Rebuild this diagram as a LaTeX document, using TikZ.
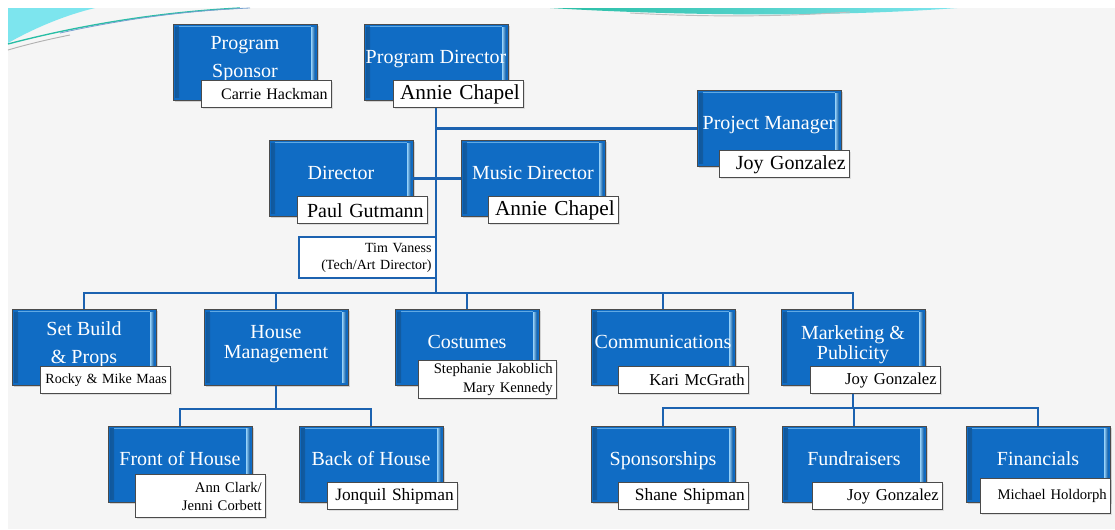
\documentclass[tikz,border=0pt]{standalone}
\usepackage{fontspec}
\setmainfont{Liberation Serif}
\usetikzlibrary{shadows}

\definecolor{unitblue}{RGB}{16,108,196}
\definecolor{unitglow}{RGB}{150,210,250}
\definecolor{unitedge}{RGB}{75,75,75}
\definecolor{wireblue}{RGB}{28,98,176}
\definecolor{slide}{RGB}{245,245,245}
\definecolor{swoosh}{RGB}{125,229,238}
\definecolor{swooshteal}{RGB}{40,190,165}

\tikzset{
  unit/.style={draw=unitedge, fill=unitblue, text=white,
    minimum width=108pt, minimum height=57pt, inner xsep=1pt,
    align=center, text depth=8pt, font=\fontsize{15}{17}\selectfont,
    drop shadow={shadow xshift=1.2pt,shadow yshift=-1.2pt,opacity=.3},
    path picture={
      \shade[left color=unitblue!80!black, right color=unitglow]
        ([shift={(1.5pt,-2pt)}]path picture bounding box.north west)
        rectangle ([shift={(4.5pt,2pt)}]path picture bounding box.south west);
      \shade[left color=unitglow, right color=unitblue!80!black]
        ([shift={(-4.5pt,-2pt)}]path picture bounding box.north east)
        rectangle ([shift={(-1.5pt,2pt)}]path picture bounding box.south east);
      \draw[unitglow!60!unitblue, line width=0.6pt]
        ([shift={(4.5pt,-1.5pt)}]path picture bounding box.north west)
        -- ([shift={(-4.5pt,-1.5pt)}]path picture bounding box.north east);
    }},
  who/.style={draw=unitedge, fill=white, anchor=south east,
    minimum width=97.5pt, minimum height=20.25pt, text width=91.5pt,
    inner xsep=3pt, inner ysep=1pt, align=right,
    font=\fontsize{12.5}{14}\selectfont,
    drop shadow={shadow xshift=1pt,shadow yshift=-1pt,opacity=.2}},
  note/.style={draw=wireblue, line width=1.5pt, fill=white,
    minimum width=102.75pt, minimum height=30.75pt, text width=96pt,
    inner xsep=3pt, align=right, font=\fontsize{10.5}{12.75}\selectfont},
  wire/.style={draw=wireblue, line width=1.6pt},
}

\begin{document}
\begin{tikzpicture}[x=0.75pt,y=-0.75pt]
  \useasboundingbox (0,0) rectangle (1115,529);
  % slide and swooshes
  \fill[white] (0,0) rectangle (1115,529);
  \fill[slide] (8,8) rectangle (1115,529);
  \fill[swoosh] (8,8) -- (8,43) .. controls (40,25) and (70,14) .. (95,8) -- cycle;
  \draw[swooshteal, line width=1pt] (8,44) .. controls (80,25) and (160,12) .. (240,8);
  \draw[wireblue!60, line width=0.6pt] (60,33) .. controls (120,20) and (180,11) .. (250,8);
  \draw[gray!60, line width=0.7pt] (8,50) .. controls (25,45) and (45,40) .. (70,35);
  \shade[left color=swooshteal, right color=swoosh]
    (550,8) .. controls (700,17) and (850,16) .. (957,8) -- cycle;
  \draw[gray!50, line width=0.7pt] (630,13) .. controls (700,17) and (780,17) .. (850,12);

  % top
  \node[unit] (ps) at (245,62.5) {Program\\[4pt]Sponsor};
  \node[who, font=\fontsize{12}{14}\selectfont] (pswho) at (332,108) {Carrie Hackman};
  \node[unit] (pd) at (436,62.5) {Program Director};
  \node[who, font=\fontsize{16}{18}\selectfont] (pdwho) at (524,108) {Annie Chapel};
  \node[unit] (pm) at (769,128.5) {Project Manager};
  \node[who, font=\fontsize{15}{17}\selectfont] (pmwho) at (850,178) {Joy Gonzalez};
  \node[unit] (dir) at (341,178.5) {Director};
  \node[who, font=\fontsize{15}{17}\selectfont] (dirwho) at (428,224) {Paul Gutmann};
  \node[unit] (md) at (533,178.5) {Music Director};
  \node[who, font=\fontsize{16}{18}\selectfont] (mdwho) at (619,224) {Annie Chapel};
  \node[note] (tim) at (367.5,257.5) {Tim Vaness\\(Tech/Art Director)};

  % departments
  \node[unit] (sb) at (84,347.5) {Set Build\\[4pt]\& Props};
  \node[who, font=\fontsize{10.5}{12}\selectfont] (sbwho) at (171,394) {Rocky \& Mike Maas};
  \node[unit] (hm) at (276,347.5) {House\\[-2pt]Management};
  \node[unit] (co) at (467,347.5) {Costumes};
  \node[who, minimum width=103.5pt, text width=97.5pt, minimum height=28.5pt,
    font=\fontsize{11}{14.5}\selectfont] (cowho) at (557,399) {Stephanie Jakoblich\\Mary Kennedy};
  \node[unit] (cm) at (663,347.5) {Communications};
  \node[who] (cmwho) at (749,394) {Kari McGrath};
  \node[unit] (mk) at (853,347.5) {Marketing \&\\[-2pt]Publicity};
  \node[who] (mkwho) at (941,394) {Joy Gonzalez};

  % sub units
  \node[unit] (foh) at (180,464) {Front of House};
  \node[who, minimum height=32.25pt, font=\fontsize{11}{13.5}\selectfont] (fohwho) at (266,518) {Ann Clark/\\Jenni Corbett};
  \node[unit] (boh) at (371,464) {Back of House};
  \node[who, font=\fontsize{13}{15}\selectfont] (bohwho) at (458,510) {Jonquil Shipman};
  \node[unit] (sp) at (663,464) {Sponsorships};
  \node[who, font=\fontsize{13}{15}\selectfont] (spwho) at (749,510) {Shane Shipman};
  \node[unit] (fu) at (854,464) {Fundraisers};
  \node[who, font=\fontsize{12.5}{14}\selectfont] (fuwho) at (943,510) {Joy Gonzalez};
  \node[unit] (fi) at (1038,464) {Financials};
  \node[who, minimum height=26.25pt, font=\fontsize{11}{13}\selectfont] (fiwho) at (1111,514) {Michael Holdorph};

  % wires
  \coordinate (bus) at (437,293);
  \coordinate (hbus) at (276,409);
  \coordinate (mbus) at (853,408);
  \draw[wire] (pd.south |- pdwho.south) -- (pd.south |- bus);
  \draw[wire] (pm.west) -- (pm.west -| pd.south);
  \draw[wire] (dir.east) -- (md.west);
  \draw[wire] (sb.north) |- (bus) -| (mk.north);
  \foreach \n in {hm,co,cm}
    \draw[wire] (\n.north) -- (\n.north |- bus);
  \draw[wire] (hm.south) -- (hbus);
  \draw[wire] (foh.north) |- (hbus) -| (boh.north);
  \draw[wire] (mk.south |- mkwho.south) -- (mbus);
  \draw[wire] (sp.north) |- (mbus) -| (fi.north);
  \draw[wire] (fu.north) -- (fu.north |- mbus);
\end{tikzpicture}
\end{document}
